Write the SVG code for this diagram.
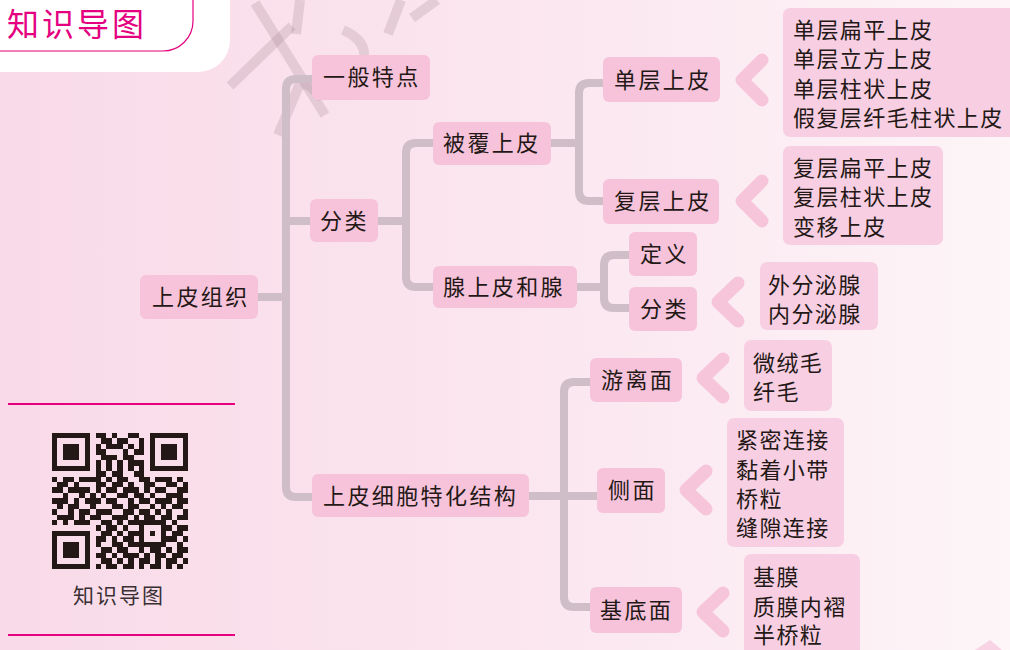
<svg xmlns="http://www.w3.org/2000/svg" width="1010" height="650" viewBox="0 0 1010 650">
<defs>
<linearGradient id="bg" x1="0" y1="0" x2="1" y2="0">
<stop offset="0" stop-color="#f9dae8"/>
<stop offset="0.6" stop-color="#fbe8f0"/>
<stop offset="1" stop-color="#fdf5f8"/>
</linearGradient>
<style>
.node{fill:#f6c3da}
.det{fill:#f8cfe2}
.t{font-family:"Liberation Serif","Noto Sans CJK SC",serif;font-size:22px;fill:#231815;letter-spacing:2.4px}
.d{font-family:"Liberation Serif","Noto Sans CJK SC",serif;font-size:22px;fill:#231815;letter-spacing:1.4px}
.con{fill:none;stroke:#cfbdc8;stroke-width:8}
.chev{fill:none;stroke:#f7c5da;stroke-width:13;stroke-linecap:round;stroke-linejoin:round}
.wm{fill:none;stroke:#a08090;stroke-opacity:0.24;stroke-width:10;stroke-linecap:butt}
</style>
</defs>
<rect width="1010" height="650" fill="url(#bg)"/>
<g id="watermark">
<path class="wm" d="M255 3 L325 115"/>
<path class="wm" d="M230 86 L292 26"/>
<path class="wm" d="M278 135 L298 88 Q302 80 312 88 L322 98"/>
<path class="wm" d="M300 0 L296 34"/>
<path class="wm" d="M343 30 Q366 40 364 58"/>
<path class="wm" d="M388 34 L401 0"/>
<path class="wm" d="M412 18 L437 0"/>
<path d="M975 650 L990 640 L1002 650 Z" fill="#f8d3e3"/>
</g>
<g id="header">
<path d="M0 0 H230 V40 A32 32 0 0 1 198 72 H0 Z" fill="#ffffff"/>
<path d="M0 51 H163 A30 30 0 0 0 193 21 V0" fill="none" stroke="#e4007f" stroke-width="1.2"/>
<text x="7" y="36" font-family="'Noto Sans CJK SC',sans-serif" font-size="32" fill="#e4007f" letter-spacing="3">知识导图</text>
</g>
<g id="qr-panel">
<line x1="8" y1="404" x2="235" y2="404" stroke="#e4007f" stroke-width="2"/>
<line x1="8" y1="635" x2="235" y2="635" stroke="#e4007f" stroke-width="2"/>
<g transform="translate(52,433) scale(5.44)" fill="#231815" shape-rendering="crispEdges">
<path d="M0 0h7v7h-7zM1 1v5h5v-5zM2 2h3v3h-3zM18 0h7v7h-7zM19 1v5h5v-5zM20 2h3v3h-3zM0 18h7v7h-7zM1 19v5h5v-5zM2 20h3v3h-3zM16 16h5v5h-5zM17 17v3h3v-3zM18 18h1v1h-1z" fill-rule="evenodd"/>
<path d="M8 0h2v1h-2zM11 0h1v1h-1zM14 0h2v1h-2zM9 1h2v1h-2zM12 1h2v1h-2zM16 1h1v1h-1zM8 2h1v1h-1zM10 2h3v1h-3zM14 2h1v1h-1zM16 2h1v1h-1zM8 3h2v1h-2zM13 3h1v1h-1zM15 3h2v1h-2zM9 4h3v1h-3zM13 4h2v1h-2zM8 5h1v1h-1zM10 5h1v1h-1zM12 5h1v1h-1zM14 5h3v1h-3zM8 6h1v1h-1zM10 6h1v1h-1zM12 6h1v1h-1zM14 6h1v1h-1zM16 6h1v1h-1zM8 7h2v1h-2zM11 7h2v1h-2zM15 7h2v1h-2z"/>
<path d="M0 8h1v1h-1zM2 8h2v1h-2zM5 8h4v1h-4zM10 8h1v1h-1zM12 8h2v1h-2zM16 8h2v1h-2zM19 8h3v1h-3zM23 8h1v1h-1zM1 9h2v1h-2zM4 9h1v1h-1zM8 9h2v1h-2zM11 9h2v1h-2zM14 9h1v1h-1zM17 9h2v1h-2zM21 9h2v1h-2zM24 9h1v1h-1zM0 10h2v1h-2zM3 10h4v1h-4zM8 10h1v1h-1zM10 10h2v1h-2zM13 10h3v1h-3zM17 10h1v1h-1zM19 10h2v1h-2zM23 10h2v1h-2zM2 11h1v1h-1zM5 11h1v1h-1zM7 11h1v1h-1zM9 11h1v1h-1zM12 11h2v1h-2zM15 11h2v1h-2zM18 11h1v1h-1zM21 11h3v1h-3zM0 12h3v1h-3zM4 12h1v1h-1zM6 12h3v1h-3zM10 12h2v1h-2zM14 12h1v1h-1zM16 12h2v1h-2zM19 12h3v1h-3zM23 12h2v1h-2zM1 13h1v1h-1zM3 13h2v1h-2zM7 13h1v1h-1zM11 13h2v1h-2zM14 13h2v1h-2zM18 13h1v1h-1zM20 13h1v1h-1zM22 13h2v1h-2zM0 14h1v1h-1zM3 14h1v1h-1zM5 14h2v1h-2zM8 14h3v1h-3zM13 14h2v1h-2zM16 14h2v1h-2zM19 14h1v1h-1zM21 14h1v1h-1zM24 14h1v1h-1zM1 15h3v1h-3zM5 15h1v1h-1zM7 15h2v1h-2zM11 15h3v1h-3zM15 15h1v1h-1zM17 15h2v1h-2zM20 15h2v1h-2zM23 15h2v1h-2zM0 16h1v1h-1zM2 16h1v1h-1zM4 16h3v1h-3zM9 16h2v1h-2zM12 16h1v1h-1zM14 16h2v1h-2zM22 16h1v1h-1z"/>
<path d="M8 17h1v1h-1zM10 17h2v1h-2zM13 17h1v1h-1zM21 17h1v1h-1zM23 17h2v1h-2zM9 18h2v1h-2zM12 18h1v1h-1zM14 18h2v1h-2zM22 18h2v1h-2zM8 19h2v1h-2zM11 19h1v1h-1zM13 19h2v1h-2zM21 19h2v1h-2zM24 19h1v1h-1zM8 20h1v1h-1zM11 20h2v1h-2zM14 20h2v1h-2zM23 20h1v1h-1zM9 21h2v1h-2zM12 21h2v1h-2zM16 21h1v1h-1zM18 21h2v1h-2zM21 21h1v1h-1zM23 21h2v1h-2zM8 22h2v1h-2zM11 22h1v1h-1zM13 22h3v1h-3zM17 22h1v1h-1zM19 22h2v1h-2zM22 22h2v1h-2zM9 23h2v1h-2zM12 23h1v1h-1zM14 23h1v1h-1zM16 23h2v1h-2zM19 23h1v1h-1zM21 23h2v1h-2zM24 23h1v1h-1zM8 24h1v1h-1zM10 24h2v1h-2zM13 24h2v1h-2zM16 24h1v1h-1zM18 24h2v1h-2zM21 24h1v1h-1zM23 24h1v1h-1z"/>
</g>
<text x="73" y="603" font-family="'Noto Sans CJK SC',sans-serif" font-size="21" fill="#3a3034" letter-spacing="2">知识导图</text>
</g>
<g id="connectors">
<path class="con" d="M312 79 H296 Q286 79 286 89 V487 Q286 497 296 497 H312"/>
<path class="con" d="M258 297 H286"/>
<path class="con" d="M286 221 H310"/>
<path class="con" d="M378 221 H406"/>
<path class="con" d="M433 143 H416 Q406 143 406 153 V277 Q406 287 416 287 H433"/>
<path class="con" d="M551 143 H579"/>
<path class="con" d="M603 83 H589 Q579 83 579 93 V191 Q579 201 589 201 H603"/>
<path class="con" d="M577 287 H604"/>
<path class="con" d="M629 255 H614 Q604 255 604 265 V298 Q604 308 614 308 H629"/>
<path class="con" d="M529 496 H597"/>
<path class="con" d="M590 382 H574 Q564 382 564 392 V597 Q564 607 574 607 H590"/>
</g>
<g id="chevrons">
<path class="chev" d="M762 60 L742 80 L762 100"/>
<path class="chev" d="M762 181 L742 201 L762 221"/>
<path class="chev" d="M738 283 L718 302 L738 321"/>
<path class="chev" d="M723 359 L703 378 L723 397"/>
<path class="chev" d="M706 471 L686 490 L706 509"/>
<path class="chev" d="M723 593 L703 612 L723 631"/>
</g>
<g id="n-shangpizuzhi"><rect class="node" x="140" y="275" width="118" height="44" rx="6"/><text class="t" x="152" y="305">上皮组织</text></g>
<g id="n-yiban"><rect class="node" x="312" y="55" width="118" height="45" rx="6"/><text class="t" x="323" y="85">一般特点</text></g>
<g id="n-fenlei1"><rect class="node" x="310" y="199" width="68" height="43" rx="6"/><text class="t" x="320" y="229">分类</text></g>
<g id="n-tehua"><rect class="node" x="312" y="474" width="217" height="43" rx="6"/><text class="t" x="323" y="504">上皮细胞特化结构</text></g>
<g id="n-beifu"><rect class="node" x="433" y="122" width="118" height="43" rx="6"/><text class="t" x="443" y="151">被覆上皮</text></g>
<g id="n-xian"><rect class="node" x="433" y="266" width="144" height="42" rx="6"/><text class="t" x="443" y="295">腺上皮和腺</text></g>
<g id="n-danceng"><rect class="node" x="603" y="57" width="117" height="45" rx="6"/><text class="t" x="614" y="88">单层上皮</text></g>
<g id="n-fuceng"><rect class="node" x="603" y="179" width="116" height="45" rx="6"/><text class="t" x="614" y="209">复层上皮</text></g>
<g id="n-dingyi"><rect class="node" x="629" y="232" width="68" height="44" rx="6"/><text class="t" x="640" y="262">定义</text></g>
<g id="n-fenlei2"><rect class="node" x="629" y="287" width="68" height="44" rx="6"/><text class="t" x="640" y="317">分类</text></g>
<g id="n-youli"><rect class="node" x="590" y="358" width="92" height="44" rx="6"/><text class="t" x="601" y="388">游离面</text></g>
<g id="n-cemian"><rect class="node" x="597" y="468" width="68" height="45" rx="6"/><text class="t" x="608" y="498">侧面</text></g>
<g id="n-jidi"><rect class="node" x="590" y="587" width="92" height="46" rx="6"/><text class="t" x="600" y="618">基底面</text></g>
<g id="d-danceng"><rect class="det" x="783" y="8" width="240" height="129" rx="7"/>
<text class="d" x="793" y="38">单层扁平上皮</text><text class="d" x="793" y="67">单层立方上皮</text><text class="d" x="793" y="97">单层柱状上皮</text><text class="d" x="793" y="126">假复层纤毛柱状上皮</text></g>
<g id="d-fuceng"><rect class="det" x="783" y="146" width="160" height="99" rx="7"/>
<text class="d" x="793" y="176">复层扁平上皮</text><text class="d" x="793" y="205">复层柱状上皮</text><text class="d" x="793" y="235">变移上皮</text></g>
<g id="d-xian"><rect class="det" x="760" y="262" width="118" height="68" rx="7"/>
<text class="d" x="768" y="293">外分泌腺</text><text class="d" x="768" y="322">内分泌腺</text></g>
<g id="d-youli"><rect class="det" x="744" y="340" width="88" height="71" rx="7"/>
<text class="d" x="753" y="371">微绒毛</text><text class="d" x="753" y="400">纤毛</text></g>
<g id="d-cemian"><rect class="det" x="727" y="418" width="117" height="129" rx="7"/>
<text class="d" x="736" y="448">紧密连接</text><text class="d" x="736" y="478">黏着小带</text><text class="d" x="736" y="507">桥粒</text><text class="d" x="736" y="536">缝隙连接</text></g>
<g id="d-jidi"><rect class="det" x="744" y="554" width="116" height="110" rx="7"/>
<text class="d" x="753" y="585">基膜</text><text class="d" x="753" y="615">质膜内褶</text><text class="d" x="753" y="643">半桥粒</text></g>
</svg>
